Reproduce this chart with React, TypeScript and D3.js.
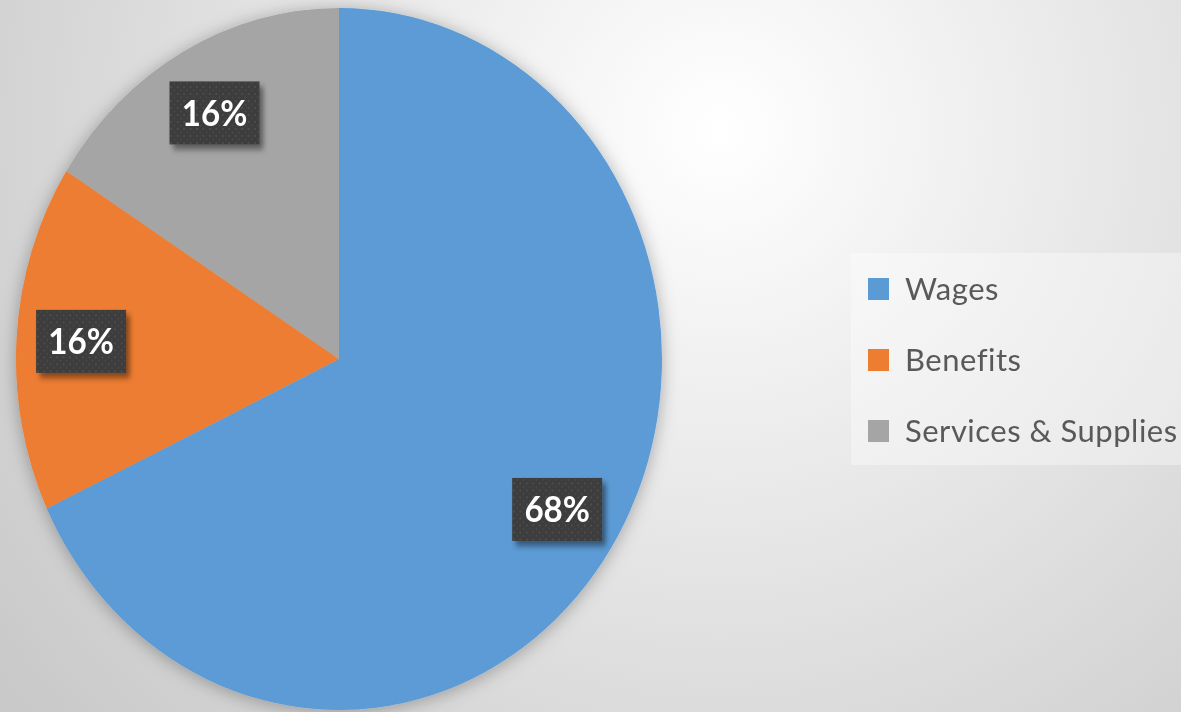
import React from "react";
import * as d3 from "d3";

const categories = ["Wages", "Benefits", "Services & Supplies"];
const values = [68, 16, 16];
const labels = ["68%", "16%", "16%"];
const colors = ["#5B9BD5", "#ED7D31", "#A5A5A5"];

const W = 1181;
const H = 712;
const cx = 339;
const cy = 359;
const R = 351; // vertical radius
const sx = 323 / 351; // horizontal squash of the picture

export default function App() {
  const pie = d3.pie<number>().sort(null).value((d) => d)(values);
  const arc = d3.arc<d3.PieArcDatum<number>>().innerRadius(0).outerRadius(R);
  const labelArc = d3
    .arc<d3.PieArcDatum<number>>()
    .innerRadius(R * 0.8)
    .outerRadius(R * 0.8);

  const boxW = 90 / sx;
  const boxH = 63;

  const legendX = 851;
  const legendY = 253;
  const legendW = W - legendX;
  const legendH = 212;
  const rowY = d3
    .scalePoint<string>()
    .domain(categories)
    .range([289 - legendY, 431 - legendY]);

  return (
    <svg
      width={W}
      height={H}
      style={{ position: "fixed", left: 0, top: 0, display: "block" }}
    >
      <defs>
        <radialGradient
          id="bg"
          gradientUnits="userSpaceOnUse"
          cx={720}
          cy={130}
          r={900}
        >
          <stop offset="0" stopColor="#ffffff" />
          <stop offset="0.35" stopColor="#ececec" />
          <stop offset="0.75" stopColor="#d6d6d6" />
          <stop offset="1" stopColor="#c9c9c9" />
        </radialGradient>
        <filter id="pieShadow" x="-20%" y="-20%" width="140%" height="140%">
          <feDropShadow dx="0" dy="2" stdDeviation="9" floodColor="#000" floodOpacity="0.3" />
        </filter>
        <filter id="boxShadow" x="-30%" y="-30%" width="170%" height="170%">
          <feDropShadow dx="4" dy="5" stdDeviation="3" floodColor="#000" floodOpacity="0.45" />
        </filter>
        <pattern id="dots" width="7" height="7" patternUnits="userSpaceOnUse">
          <rect width="7" height="7" fill="#3c3c3c" />
          <circle cx="2" cy="2" r="0.9" fill="#555555" />
          <circle cx="5.5" cy="5.5" r="0.9" fill="#4c4c4c" />
        </pattern>
      </defs>
      <rect x={0} y={0} width={W} height={H} fill="url(#bg)" />

      <g transform={`translate(${cx},${cy}) scale(${sx},1)`}>
        <g filter="url(#pieShadow)">
          {pie.map((p, i) => (
            <path key={i} d={arc(p) || ""} fill={colors[i]} />
          ))}
        </g>
        {pie.map((p, i) => {
          const [lx, ly] = labelArc.centroid(p);
          return (
            <g key={"l" + i} transform={`translate(${lx},${ly})`}>
              <rect
                x={-boxW / 2}
                y={-boxH / 2}
                width={boxW}
                height={boxH}
                fill="url(#dots)"
                filter="url(#boxShadow)"
              />
              <text
                x={0}
                y={0}
                dy="0.36em"
                textAnchor="middle"
                fill="#ffffff"
                fontFamily="Lato, 'Open Sans', sans-serif"
                fontWeight="bold"
                fontSize={36}
              >
                {labels[i]}
              </text>
            </g>
          );
        })}
      </g>

      <g transform={`translate(${legendX},${legendY})`}>
        <rect x={0} y={0} width={legendW} height={legendH} fill="#ffffff" fillOpacity={0.35} />
        {categories.map((c, i) => (
          <g key={c} transform={`translate(17,${rowY(c)})`}>
            <rect x={0} y={-11} width={21} height={22} fill={colors[i]} />
            <text
              x={37}
              y={0}
              dy="0.36em"
              fill="#595959"
              fontFamily="Lato, 'Open Sans', sans-serif"
              fontSize={31}
              letterSpacing={0.5}
            >
              {c}
            </text>
          </g>
        ))}
      </g>
    </svg>
  );
}
